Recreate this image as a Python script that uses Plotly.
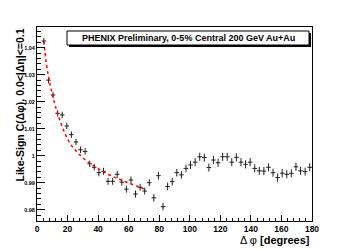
import plotly.graph_objects as go

# Data
dphi = [4.5, 7.5, 10.5, 13.5, 16.5, 19.5, 22.5, 25.5, 28.5, 31.5,
        34.5, 37.5, 40.5, 43.5, 46.5, 49.5, 52.5, 55.5, 58.5, 61.5,
        64.5, 67.5, 70.5, 73.5, 76.5, 79.5, 82.5, 85.5, 88.5, 91.5,
        94.5, 97.5, 100.5, 103.5, 106.5, 109.5, 112.5, 115.5, 118.5, 121.5,
        124.5, 127.5, 130.5, 133.5, 136.5, 139.5, 142.5, 145.5, 148.5, 151.5,
        154.5, 157.5, 160.5, 163.5, 166.5, 169.5, 172.5, 175.5, 178.5]
corr = [1.0425, 1.0280, 1.0225, 1.0157, 1.0151, 1.0110, 1.0078, 1.0051, 1.0022, 1.0016,
        0.9970, 0.9957, 0.9937, 0.9942, 0.9905, 0.9905, 0.9931, 0.9902, 0.9876, 0.9910,
        0.9858, 0.9883, 0.9869, 0.9900, 0.9844, 0.9926, 0.9811, 0.9886, 0.9904, 0.9937,
        0.9929, 0.9953, 0.9966, 0.9976, 0.9996, 0.9993, 0.9956, 0.9984, 0.9974, 0.9996,
        0.9996, 0.9976, 0.9994, 0.9976, 0.9968, 0.9976, 0.9953, 0.9944, 0.9943, 0.9957,
        0.9937, 0.9919, 0.9935, 0.9931, 0.9935, 0.9959, 0.9944, 0.9941, 0.9957]
corr_err = [0.0012, 0.0012, 0.0012, 0.0012, 0.0012, 0.0012, 0.0012, 0.0012, 0.0012, 0.0012,
            0.0012, 0.0012, 0.0013, 0.0013, 0.0013, 0.0013, 0.0013, 0.0013, 0.0013, 0.0013,
            0.0013, 0.0013, 0.0013, 0.0013, 0.0014, 0.0014, 0.0014, 0.0014, 0.0014, 0.0014,
            0.0014, 0.0014, 0.0015, 0.0015, 0.0015, 0.0015, 0.0015, 0.0015, 0.0015, 0.0015,
            0.0015, 0.0015, 0.0015, 0.0015, 0.0015, 0.0015, 0.0015, 0.0015, 0.0015, 0.0015,
            0.0015, 0.0015, 0.0015, 0.0015, 0.0015, 0.0015, 0.0015, 0.0015, 0.0015]
bin_half_width = 1.5

# Fit curve
fit_x = [4.5, 6, 8, 10, 12, 14, 17, 20, 24, 28, 32, 36, 40, 45, 50, 55, 60, 65, 70]
fit_y = [1.0425, 1.0345, 1.0280, 1.0228, 1.0185, 1.0148, 1.0100, 1.0062, 1.0027, 1.0003,
         0.9983, 0.9966, 0.9952, 0.9936, 0.9922, 0.9910, 0.9899, 0.9888, 0.9877]

x_ticks = [0, 20, 40, 60, 80, 100, 120, 140, 160, 180]
y_ticks = [0.98, 0.99, 1.0, 1.01, 1.02, 1.03, 1.04]
y_tick_labels = ["0.98", "0.99", "1", "1.01", "1.02", "1.03", "1.04"]

FONT = "Liberation Sans, Arial, sans-serif"
OFF = 8  # default page body margin
W, H = 349 - OFF, 249 - OFF
# plot frame in page pixels: x 37..312, y 27..221
FX0, FX1, FY0, FY1 = 37, 312, 27, 221
L, R, T, B = FX0 - OFF, 349 - FX1, FY0 - OFF, 249 - FY1
pw, ph = FX1 - FX0, FY1 - FY0

def px(xp):
    return (xp - FX0) / pw

def py(yp):
    return (FY1 - yp) / ph

fig = go.Figure()
fig.add_trace(go.Scatter(
    x=dphi, y=corr, mode="markers",
    marker=dict(size=1, color="#222222"),
    error_y=dict(type="data", array=corr_err, width=0, thickness=1, color="#222222"),
    error_x=dict(type="constant", value=bin_half_width, width=0, thickness=1, color="#222222"),
    showlegend=False, hoverinfo="skip",
))
fig.add_trace(go.Scatter(
    x=fit_x, y=fit_y, mode="lines", line=dict(color="#ff0000", width=1.5, dash="dot", shape="spline"),
    showlegend=False, hoverinfo="skip",
))

fig.update_layout(
    width=W, height=H,
    margin=dict(l=L, r=R, t=T, b=B, pad=0, autoexpand=False),
    paper_bgcolor="white", plot_bgcolor="white",
    font=dict(family=FONT, color="black"),
    xaxis=dict(
        range=[0, 180], tickvals=x_ticks, ticktext=[f"<b>{v}</b>" for v in x_ticks],
        ticks="inside", ticklen=6, tickwidth=1, tickcolor="black",
        minor=dict(ticks="inside", dtick=4, ticklen=3, tickcolor="black", showgrid=False),
        showline=True, linecolor="black", linewidth=1, mirror=True,
        showgrid=False, zeroline=False, tickfont=dict(size=8.5, family=FONT),
    ),
    yaxis=dict(
        range=[0.9758, 1.0477], tickvals=y_ticks, ticktext=[f"<b>{t}</b>" for t in y_tick_labels],
        ticks="inside", ticklen=8, tickwidth=1, tickcolor="black",
        minor=dict(ticks="inside", dtick=0.002, tick0=0.98, ticklen=4, tickcolor="black", showgrid=False),
        showline=True, linecolor="black", linewidth=1, mirror=True,
        showgrid=False, zeroline=False, tickfont=dict(size=5.5, family=FONT),
    ),
)

# Header box with shadow
bx0, bx1, by0, by1 = 67, 309, 31, 45
fig.add_shape(type="rect", xref="paper", yref="paper",
              x0=px(bx0 + 2), x1=px(bx1 + 2), y0=py(by1 + 2), y1=py(by0 + 2),
              line=dict(width=0), fillcolor="black", layer="above")
fig.add_shape(type="rect", xref="paper", yref="paper",
              x0=px(bx0), x1=px(bx1), y0=py(by1), y1=py(by0),
              line=dict(width=1, color="black"), fillcolor="white", layer="above")
fig.add_annotation(xref="paper", yref="paper", x=px((bx0 + bx1) / 2), y=py((by0 + by1) / 2),
                   text="<b>PHENIX Preliminary, 0-5% Central 200 GeV Au+Au</b>",
                   showarrow=False, font=dict(size=9, family=FONT), xanchor="center", yanchor="middle")

# Axis titles
fig.add_annotation(xref="paper", yref="paper", x=px(19), y=1.0,
                   text="<b>Like-Sign C(Δφ), 0.0<|Δη|<=0.1</b>", textangle=-90,
                   showarrow=False, font=dict(size=10.5, family=FONT), xanchor="center", yanchor="top")
fig.add_annotation(xref="paper", yref="paper", x=1.0, y=py(239.5),
                   text="Δ φ <b>[degrees]</b>",
                   showarrow=False, font=dict(size=11, family=FONT), xanchor="right", yanchor="middle")

fig.write_html("out.html")
